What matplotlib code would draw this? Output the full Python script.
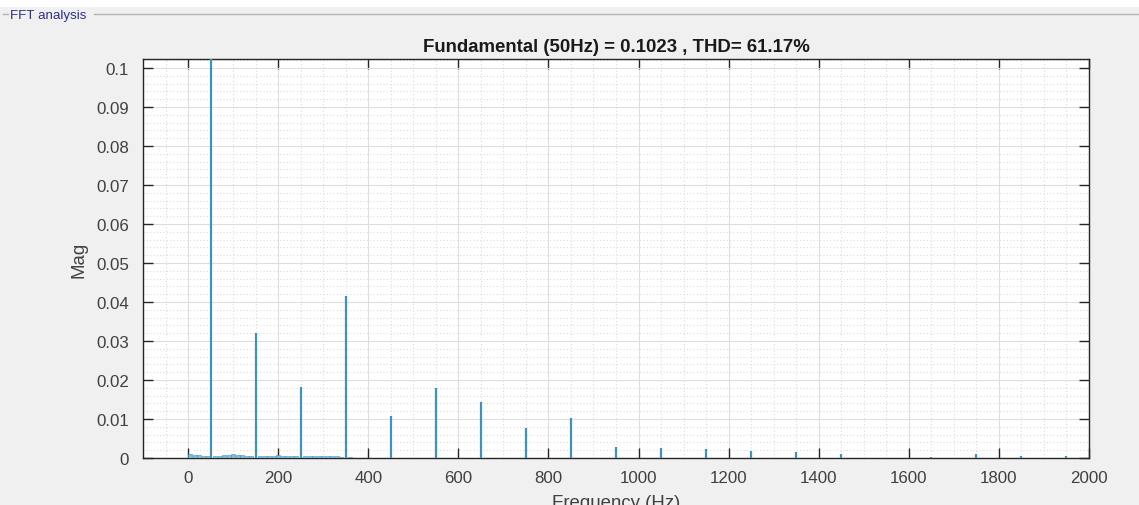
import numpy as np
import matplotlib
matplotlib.use('Agg')
import matplotlib.pyplot as plt
from matplotlib.ticker import MultipleLocator, FormatStrFormatter

# harmonic peaks (Hz, magnitude)
harm_freq = [50, 150, 250, 350, 450, 550, 650, 750, 850, 950, 1050, 1150,
             1250, 1350, 1450, 1650, 1750, 1850, 1950]
harm_mag = [0.1023, 0.0320, 0.0182, 0.0415, 0.0107, 0.0180, 0.0143, 0.0077,
            0.0102, 0.0027, 0.0026, 0.0023, 0.0017, 0.0016, 0.0010,
            0.0003, 0.0009, 0.0004, 0.0005]

# low level interharmonic content below ~370 Hz
noise_freq = [5, 15, 25, 35, 45, 60, 70, 80, 90, 100, 110, 120, 130, 140,
              160, 170, 180, 190, 200, 210, 220, 230, 240, 260, 270, 280,
              290, 300, 310, 320, 330, 340, 360, 370]
noise_mag = [0.0009, 0.0008, 0.0007, 0.0006, 0.0005, 0.0005, 0.0006, 0.0007,
             0.0008, 0.0009, 0.0008, 0.0007, 0.0006, 0.0005, 0.0004, 0.0005,
             0.0005, 0.0006, 0.0007, 0.0006, 0.0005, 0.0004, 0.0004, 0.0004,
             0.0005, 0.0005, 0.0006, 0.0006, 0.0005, 0.0004, 0.0004, 0.0003,
             0.0002, 0.0001]

title = 'Fundamental (50Hz) = 0.1023 , THD= 61.17%'
xticks = list(range(0, 2001, 200))
yticks = [0, 0.01, 0.02, 0.03, 0.04, 0.05, 0.06, 0.07, 0.08, 0.09, 0.1]

plt.rcParams['font.family'] = ['Liberation Sans', 'DejaVu Sans']

W, H = 1139, 506
fig = plt.figure(figsize=(W / 100, H / 100), dpi=100, facecolor='#f0f0f0')

# panel frame and caption
fig.patches.append(plt.Rectangle((0, 1 - 7 / H), 1, 7 / H, transform=fig.transFigure,
                                 color='white', zorder=0))
fig.add_artist(plt.Line2D([3 / W, 8 / W], [1 - 15 / H, 1 - 15 / H],
                          color='#b4b4b4', lw=1, transform=fig.transFigure))
fig.add_artist(plt.Line2D([94 / W, 1], [1 - 15 / H, 1 - 15 / H],
                          color='#b4b4b4', lw=1, transform=fig.transFigure))
fig.text(10 / W, 1 - 16 / H, 'FFT analysis', color='#2e2e8c', fontsize=9.6,
         va='center', ha='left')

ax = fig.add_axes([143 / W, 47 / H, 946 / W, 399 / H])
ax.set_facecolor('white')

line_col = '#3f92c0'
ax.bar(noise_freq, noise_mag, width=9, color='#86b8d4', edgecolor=line_col,
       linewidth=0.4, zorder=3)
ax.vlines(harm_freq, 0, harm_mag, color=line_col, lw=1.6, zorder=4)

ax.set_xlim(-100, 2000)
ax.set_ylim(0, 0.1023)
ax.set_xticks(xticks)
ax.set_yticks(yticks)
ax.yaxis.set_major_formatter(FormatStrFormatter('%g'))
ax.xaxis.set_minor_locator(MultipleLocator(50))
ax.yaxis.set_minor_locator(MultipleLocator(0.002))

ax.grid(True, which='major', color='#dedede', lw=0.8, ls='-', zorder=0)
ax.grid(True, which='minor', color='#dcdcdc', lw=0.8, ls=(0, (1, 2)), zorder=0)
ax.set_axisbelow(True)

ax.tick_params(which='major', direction='in', top=True, right=True, length=7,
               width=1, color='#262626', labelsize=12.2, labelcolor='#404040')
ax.tick_params(axis='x', which='major', pad=9)
ax.tick_params(axis='y', which='major', pad=10)
ax.tick_params(which='minor', length=0)
for s in ax.spines.values():
    s.set_color('#262626')
    s.set_linewidth(1)

ax.set_title(title, fontsize=13.4, fontweight='bold', color='#1a1a1a', pad=6)
ax.set_xlabel('Frequency (Hz)', fontsize=13.4, color='#404040')
ax.xaxis.set_label_coords(0.5, -0.09)
ax.xaxis.label.set_va('top')
ax.set_ylabel('Mag', fontsize=13.4, color='#404040')
ax.yaxis.set_label_coords(-0.068, 0.5)
ax.yaxis.label.set_va('center')

fig.savefig('out.png', dpi=100, facecolor=fig.get_facecolor())
